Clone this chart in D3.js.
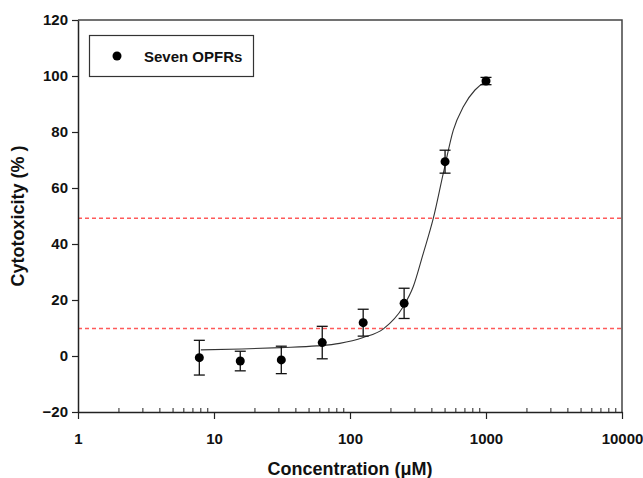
<!DOCTYPE html>
<html><head><meta charset="utf-8">
<script src="https://cdn.jsdelivr.net/npm/d3@7"></script>
<style>body{margin:0;background:#fff}svg{display:block}text{font-family:"Liberation Sans",Arial,sans-serif;font-weight:bold}</style>
</head><body>
<script>
const concentrations = [7.8, 15.6, 31.25, 62.5, 125, 250, 500, 1000];
const meanCytotoxicity = [-0.6, -1.8, -1.4, 4.8, 11.9, 18.8, 69.4, 98.2];
const errorSD = [6.2, 3.5, 4.9, 5.8, 4.8, 5.4, 4.1, 1.3];
const fitX = [8, 16, 31, 57, 84, 125, 176, 246, 292, 345, 410, 485, 575, 681, 830, 955, 1000];
const fitY = [2.2, 2.5, 3.0, 3.6, 4.5, 6.6, 9.7, 17.6, 24.8, 36.5, 49.2, 65.2, 80.7, 89.0, 95.0, 97.4, 97.8];
const refLines = [49.2, 9.8];
const xTicks = [1, 10, 100, 1000, 10000];
const yTicks = [-20, 0, 20, 40, 60, 80, 100, 120];
const seriesName = "Seven OPFRs";

const W = 643, H = 478;
const m = {l: 78, r: 21, t: 20, b: 66};
const svg = d3.select("body").append("svg").attr("width", W).attr("height", H);
const x = d3.scaleLog().domain([1, 10000]).range([m.l, W - m.r]);
const y = d3.scaleLinear().domain([-20, 120]).range([H - m.b, m.t]);

// frame top/right
svg.append("path").attr("d", `M${x(1)},${y(120)}H${x(10000)}V${y(-20)}`)
  .attr("fill", "none").attr("stroke", "#444").attr("stroke-width", 1.5);

// reference lines
svg.selectAll(".ref").data(refLines).join("line")
  .attr("x1", x(1)).attr("x2", x(10000)).attr("y1", d => y(d)).attr("y2", d => y(d))
  .attr("stroke", "#ff5a5a").attr("stroke-width", 1.5).attr("stroke-dasharray", "4,3");

// minor x ticks
const minor = [];
for (let p = 1; p < 10000; p *= 10) for (let k = 2; k <= 9; k++) minor.push(p * k);
svg.selectAll(".minor").data(minor).join("line")
  .attr("x1", d => x(d)).attr("x2", d => x(d)).attr("y1", y(-20)).attr("y2", y(-20) - 4)
  .attr("stroke", "#222").attr("stroke-width", 1);

// x axis
const gx = svg.append("g").attr("transform", `translate(0,${y(-20)})`)
  .call(d3.axisBottom(x).tickValues(xTicks).tickFormat(d3.format("d")).tickSize(7).tickPadding(14).tickSizeOuter(0));
gx.select(".domain").attr("stroke", "#222").attr("stroke-width", 1.5);
gx.selectAll(".tick line").attr("stroke", "#222").attr("stroke-width", 1.2);
gx.selectAll("text").attr("font-size", 15).attr("fill", "#111").attr("font-family", null);

// y axis
const gy = svg.append("g").attr("transform", `translate(${x(1)},0)`)
  .call(d3.axisLeft(y).tickValues(yTicks).tickSize(6).tickPadding(4).tickSizeOuter(0));
gy.select(".domain").attr("stroke", "#222").attr("stroke-width", 1.5);
gy.selectAll(".tick line").attr("stroke", "#222").attr("stroke-width", 1.2);
gy.selectAll("text").attr("font-size", 15).attr("fill", "#111").attr("font-family", null);

// fit curve
const fit = fitX.map((v, i) => [v, fitY[i]]);
svg.append("path").datum(fit)
  .attr("d", d3.line().x(d => x(d[0])).y(d => y(d[1])).curve(d3.curveMonotoneX))
  .attr("fill", "none").attr("stroke", "#333").attr("stroke-width", 1.1);

// error bars
const pts = concentrations.map((c, i) => ({c, v: meanCytotoxicity[i], e: errorSD[i]}));
const eb = svg.append("g").attr("stroke", "#111").attr("stroke-width", 1.3);
eb.selectAll(".v").data(pts).join("line")
  .attr("x1", d => x(d.c)).attr("x2", d => x(d.c)).attr("y1", d => y(d.v - d.e)).attr("y2", d => y(d.v + d.e));
eb.selectAll(".t").data(pts).join("line")
  .attr("x1", d => x(d.c) - 5.5).attr("x2", d => x(d.c) + 5.5).attr("y1", d => y(d.v + d.e)).attr("y2", d => y(d.v + d.e));
eb.selectAll(".b").data(pts).join("line")
  .attr("x1", d => x(d.c) - 5.5).attr("x2", d => x(d.c) + 5.5).attr("y1", d => y(d.v - d.e)).attr("y2", d => y(d.v - d.e));

// points
svg.selectAll(".pt").data(pts).join("circle")
  .attr("cx", d => x(d.c)).attr("cy", d => y(d.v)).attr("r", 4.5).attr("fill", "#000");

// legend
svg.append("rect").attr("x", 89.5).attr("y", 35.5).attr("width", 164).attr("height", 41)
  .attr("fill", "#fff").attr("stroke", "#333").attr("stroke-width", 1.2);
svg.append("circle").attr("cx", 117).attr("cy", 56).attr("r", 4.5).attr("fill", "#000");
svg.append("text").attr("x", 144).attr("y", 61.5).attr("font-size", 15).attr("fill", "#111").text(seriesName);

// axis titles
svg.append("text").attr("x", (x(1) + x(10000)) / 2).attr("y", 475).attr("text-anchor", "middle")
  .attr("font-size", 18).attr("fill", "#111").text("Concentration (\u03BCM)");
svg.append("text").attr("transform", `translate(24,${(y(-20) + y(120)) / 2}) rotate(-90)`)
  .attr("text-anchor", "middle").attr("font-size", 18).attr("fill", "#111").text("Cytotoxicity (% )");
</script>
</body></html>
